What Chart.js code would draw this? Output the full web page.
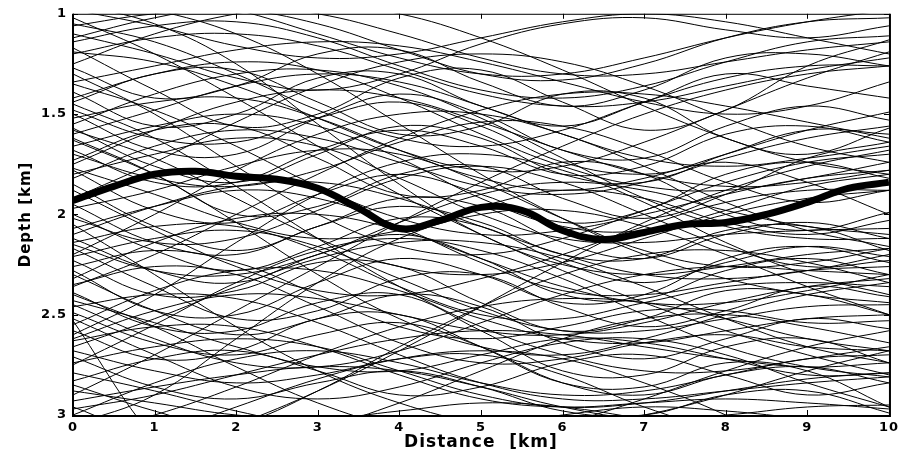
<!DOCTYPE html>
<html>
<head>
<meta charset="utf-8">
<script src="https://cdn.jsdelivr.net/npm/chart.js@4.4.1/dist/chart.umd.min.js"></script>
<style>
  html, body { margin:0; padding:0; background:#fff; }
  #wrap { width:903px; height:460px; position:relative; }
</style>
</head>
<body>
<div id="wrap"><canvas id="depthChart"></canvas></div>
<script>
// distance axis (km) for the model curves
const distanceKm = [0, 1, 2, 3, 4, 5, 6, 7, 8, 9, 10];
// thick best-fit interface, sampled every 0.5 km
const bestDistanceKm = [0, 0.5, 1, 1.5, 2, 2.5, 3, 3.5, 4, 4.5, 5, 5.5, 6, 6.5, 7, 7.5, 8, 8.5, 9, 9.5, 10];
const bestDepth = [1.93, 1.86, 1.80, 1.785, 1.81, 1.825, 1.87, 1.97, 2.07, 2.03, 1.965, 1.98, 2.08, 2.125, 2.09, 2.05, 2.04, 2.00, 1.94, 1.87, 1.84];
// thin model curves, depth (km) at each distanceKm value
const modelDepths = [
  [1.06, 1.00, 0.98, 1.05, 1.18, 1.30, 1.33, 1.25, 1.12, 1.04, 1.02],
  [1.10, 1.20, 1.32, 1.38, 1.30, 1.15, 1.05, 1.02, 1.08, 1.12, 1.06],
  [1.14, 1.06, 1.04, 1.12, 1.26, 1.38, 1.42, 1.36, 1.24, 1.14, 1.11],
  [1.17, 1.38, 1.56, 1.50, 1.32, 1.28, 1.44, 1.58, 1.48, 1.26, 1.13],
  [1.19, 1.24, 1.36, 1.52, 1.68, 1.78, 1.76, 1.64, 1.48, 1.32, 1.19],
  [1.27, 1.42, 1.36, 1.20, 1.18, 1.34, 1.46, 1.38, 1.22, 1.20, 1.26],
  [1.34, 1.26, 1.18, 1.14, 1.16, 1.24, 1.34, 1.44, 1.50, 1.46, 1.34],
  [1.39, 1.56, 1.50, 1.32, 1.30, 1.46, 1.56, 1.44, 1.30, 1.36, 1.42],
  [1.44, 1.30, 1.28, 1.44, 1.60, 1.56, 1.40, 1.42, 1.62, 1.70, 1.57],
  [1.50, 1.68, 1.70, 1.52, 1.40, 1.50, 1.68, 1.72, 1.56, 1.46, 1.53],
  [1.52, 1.44, 1.42, 1.52, 1.68, 1.82, 1.88, 1.82, 1.70, 1.58, 1.49],
  [1.57, 1.76, 1.84, 1.70, 1.56, 1.62, 1.80, 1.84, 1.70, 1.58, 1.60],
  [1.60, 1.48, 1.36, 1.30, 1.34, 1.46, 1.60, 1.72, 1.76, 1.72, 1.66],
  [1.63, 1.80, 2.00, 1.96, 1.80, 1.76, 1.92, 2.02, 1.90, 1.72, 1.64],
  [1.66, 1.56, 1.50, 1.56, 1.72, 1.92, 2.06, 2.08, 1.98, 1.86, 1.80],
  [1.70, 1.82, 1.86, 1.78, 1.64, 1.54, 1.56, 1.68, 1.84, 1.94, 1.88],
  [1.73, 1.58, 1.56, 1.72, 1.90, 1.88, 1.74, 1.80, 2.00, 2.08, 1.99],
  [1.77, 1.90, 2.04, 2.12, 2.08, 1.96, 1.88, 1.92, 2.04, 2.10, 2.03],
  [1.80, 1.70, 1.62, 1.66, 1.82, 2.00, 2.12, 2.14, 2.10, 2.08, 2.07],
  [1.85, 2.06, 2.18, 2.06, 1.92, 1.96, 2.14, 2.22, 2.10, 2.04, 2.12],
  [1.97, 1.88, 1.76, 1.68, 1.70, 1.84, 2.02, 2.18, 2.26, 2.24, 2.17],
  [2.00, 2.18, 2.28, 2.16, 2.02, 2.06, 2.24, 2.34, 2.24, 2.16, 2.21],
  [2.02, 2.14, 2.12, 1.98, 1.82, 1.76, 1.84, 2.00, 2.16, 2.26, 2.23],
  [2.07, 1.96, 1.88, 1.92, 2.06, 2.24, 2.38, 2.40, 2.34, 2.28, 2.26],
  [2.12, 2.28, 2.34, 2.20, 2.10, 2.22, 2.40, 2.42, 2.28, 2.22, 2.30],
  [2.14, 2.06, 2.06, 2.18, 2.36, 2.50, 2.52, 2.44, 2.36, 2.34, 2.36],
  [2.17, 2.36, 2.52, 2.48, 2.32, 2.30, 2.46, 2.56, 2.48, 2.36, 2.41],
  [2.21, 2.12, 2.08, 2.16, 2.32, 2.48, 2.58, 2.58, 2.52, 2.46, 2.45],
  [2.23, 2.40, 2.38, 2.24, 2.26, 2.44, 2.58, 2.52, 2.38, 2.40, 2.50],
  [2.26, 2.18, 2.24, 2.40, 2.56, 2.62, 2.56, 2.48, 2.48, 2.54, 2.53],
  [2.30, 2.48, 2.60, 2.52, 2.40, 2.46, 2.64, 2.72, 2.62, 2.52, 2.57],
  [2.35, 2.26, 2.30, 2.46, 2.64, 2.74, 2.72, 2.64, 2.60, 2.66, 2.68],
  [2.39, 2.56, 2.58, 2.44, 2.40, 2.58, 2.78, 2.80, 2.66, 2.62, 2.74],
  [2.43, 2.54, 2.66, 2.76, 2.78, 2.70, 2.62, 2.64, 2.72, 2.80, 2.79],
  [2.46, 2.40, 2.42, 2.54, 2.70, 2.84, 2.92, 2.92, 2.88, 2.84, 2.81],
  [2.49, 2.64, 2.70, 2.60, 2.54, 2.66, 2.84, 2.90, 2.80, 2.76, 2.84],
  [2.53, 3.12, 3.50, 3.70, 3.80, 3.80, 3.80, 3.80, 3.80, 3.80, 3.80],
  [2.58, 2.72, 2.68, 2.52, 2.50, 2.66, 2.84, 2.86, 2.74, 2.78, 2.96],
  [2.63, 2.56, 2.56, 2.66, 2.80, 2.92, 2.96, 2.94, 2.92, 2.94, 2.97],
  [2.68, 2.78, 2.84, 2.80, 2.72, 2.70, 2.80, 2.96, 3.08, 3.14, 3.12],
  [2.71, 2.86, 2.92, 2.84, 2.78, 2.86, 2.98, 3.00, 2.90, 2.88, 2.99],
  [2.74, 2.66, 2.62, 2.66, 2.78, 2.90, 2.96, 2.94, 2.88, 2.82, 2.79],
  [2.79, 2.88, 2.98, 3.06, 3.10, 3.06, 3.00, 2.96, 2.98, 3.02, 3.06],
  [2.83, 2.72, 2.68, 2.78, 2.90, 2.86, 2.74, 2.70, 2.80, 2.90, 2.84],
  [2.88, 2.94, 3.00, 3.02, 2.98, 2.94, 2.96, 3.02, 3.08, 3.10, 3.06],
  [2.93, 2.86, 2.80, 2.76, 2.78, 2.86, 2.96, 3.02, 3.00, 2.96, 2.95],
  [2.97, 2.90, 2.80, 2.70, 2.62, 2.58, 2.60, 2.66, 2.72, 2.76, 2.74],
  [1.02, 1.20, 1.42, 1.66, 1.90, 2.10, 2.28, 2.44, 2.58, 2.70, 2.80],
  [2.90, 2.70, 2.48, 2.26, 2.04, 1.84, 1.66, 1.50, 1.38, 1.30, 1.26],
  [0.95, 1.05, 1.25, 1.55, 1.85, 2.10, 2.25, 2.30, 2.26, 2.20, 2.17],
  [3.05, 2.90, 2.62, 2.34, 2.12, 2.00, 1.98, 2.06, 2.20, 2.36, 2.50],
  [1.30, 1.50, 1.76, 2.00, 2.16, 2.20, 2.12, 1.98, 1.84, 1.74, 1.70],
  [2.60, 2.40, 2.14, 1.90, 1.74, 1.70, 1.78, 1.94, 2.14, 2.30, 2.40],
  [1.62, 1.80, 2.04, 2.30, 2.52, 2.66, 2.70, 2.62, 2.50, 2.40, 2.34],
  [2.20, 2.00, 1.78, 1.60, 1.50, 1.50, 1.60, 1.76, 1.94, 2.08, 2.16],
  [1.92, 1.74, 1.54, 1.36, 1.24, 1.20, 1.24, 1.36, 1.52, 1.66, 1.74],
  [2.36, 2.20, 2.00, 1.80, 1.62, 1.48, 1.40, 1.40, 1.46, 1.54, 1.62],
  [1.45, 1.62, 1.86, 2.12, 2.36, 2.56, 2.70, 2.78, 2.78, 2.72, 2.66],
  [2.96, 3.10, 3.05, 2.88, 2.66, 2.46, 2.30, 2.20, 2.18, 2.24, 2.34],
  [0.90, 0.98, 1.10, 1.30, 1.55, 1.80, 2.02, 2.20, 2.32, 2.40, 2.44],
  [3.30, 3.20, 3.05, 2.88, 2.68, 2.46, 2.24, 2.04, 1.88, 1.76, 1.68],
  [3.20, 3.10, 2.96, 2.82, 2.72, 2.68, 2.72, 2.84, 3.00, 3.20, 3.30],
  [0.85, 0.90, 0.98, 1.10, 1.22, 1.30, 1.30, 1.22, 1.12, 1.04, 0.98],
  [1.25, 1.10, 1.00, 0.95, 1.00, 1.12, 1.28, 1.46, 1.62, 1.74, 1.80],
  [2.05, 2.30, 2.56, 2.78, 2.94, 3.04, 3.06, 3.00, 2.90, 2.78, 2.68],
  [2.75, 2.55, 2.34, 2.18, 2.12, 2.18, 2.32, 2.50, 2.66, 2.76, 2.81],
  [1.55, 1.40, 1.30, 1.28, 1.36, 1.52, 1.72, 1.92, 2.06, 2.12, 2.12],
  [2.45, 2.62, 2.74, 2.76, 2.68, 2.54, 2.40, 2.30, 2.26, 2.28, 2.30],
  [1.88, 2.08, 2.26, 2.38, 2.40, 2.32, 2.20, 2.06, 1.94, 1.88, 1.88],
  [2.32, 2.14, 2.02, 2.00, 2.08, 2.22, 2.36, 2.44, 2.44, 2.38, 2.30],
  [3.10, 3.00, 2.86, 2.70, 2.56, 2.46, 2.42, 2.44, 2.52, 2.62, 2.68],
  [1.75, 1.58, 1.44, 1.38, 1.42, 1.54, 1.68, 1.80, 1.86, 1.84, 1.78],
  [2.55, 2.38, 2.28, 2.28, 2.38, 2.52, 2.62, 2.64, 2.58, 2.52, 2.50],
  [1.35, 1.48, 1.66, 1.86, 2.02, 2.10, 2.08, 2.00, 1.90, 1.82, 1.78],
  [0.98, 1.06, 1.16, 1.22, 1.20, 1.12, 1.04, 1.00, 1.04, 1.12, 1.20],
  [1.12, 1.02, 0.96, 1.00, 1.10, 1.22, 1.30, 1.30, 1.24, 1.18, 1.14],
  [2.85, 2.98, 3.08, 3.06, 2.94, 2.78, 2.62, 2.52, 2.50, 2.56, 2.64],
  [2.15, 2.28, 2.30, 2.20, 2.04, 1.90, 1.84, 1.88, 1.98, 2.06, 2.10],
  [1.48, 1.62, 1.64, 1.52, 1.44, 1.56, 1.74, 1.80, 1.74, 1.84, 2.00],
  [2.62, 2.48, 2.40, 2.42, 2.50, 2.58, 2.60, 2.54, 2.44, 2.36, 2.32],
  [1.68, 1.84, 1.84, 1.68, 1.58, 1.66, 1.80, 1.76, 1.60, 1.56, 1.64],
  [2.40, 2.56, 2.76, 2.94, 3.06, 3.10, 3.04, 2.92, 2.78, 2.66, 2.58],
  [1.82, 1.66, 1.58, 1.62, 1.74, 1.86, 1.90, 1.84, 1.72, 1.62, 1.56],
  [2.28, 2.48, 2.50, 2.34, 2.22, 2.30, 2.44, 2.40, 2.22, 2.16, 2.24],
  [1.05, 1.14, 1.30, 1.48, 1.62, 1.66, 1.58, 1.44, 1.32, 1.26, 1.26],
  [3.00, 2.84, 2.72, 2.68, 2.74, 2.84, 2.90, 2.88, 2.80, 2.72, 2.70],
  [1.42, 1.30, 1.24, 1.28, 1.42, 1.60, 1.76, 1.86, 1.88, 1.82, 1.74],
  [2.10, 1.96, 1.86, 1.84, 1.92, 2.06, 2.20, 2.30, 2.32, 2.28, 2.20],
  [1.58, 1.72, 1.92, 2.12, 2.26, 2.30, 2.24, 2.12, 2.00, 1.92, 1.88],
  [2.66, 2.52, 2.36, 2.22, 2.14, 2.14, 2.22, 2.36, 2.52, 2.66, 2.74],
  [1.20, 1.12, 1.10, 1.16, 1.28, 1.40, 1.46, 1.44, 1.36, 1.28, 1.22],
  [1.95, 2.14, 2.20, 2.06, 1.96, 2.04, 2.20, 2.22, 2.08, 2.06, 2.18],
  [2.52, 2.70, 2.86, 2.92, 2.86, 2.74, 2.64, 2.62, 2.70, 2.84, 2.96],
  [1.78, 1.98, 2.04, 1.90, 1.80, 1.90, 2.04, 1.98, 1.80, 1.74, 1.82]
];
const depthTicks = [1, 1.5, 2, 2.5, 3];
const distanceTicks = [0, 1, 2, 3, 4, 5, 6, 7, 8, 9, 10];

const tickFont = { family: "'DejaVu Sans', sans-serif", size: 13, weight: 'bold' };

const datasets = [{
    data: bestDistanceKm.map((x, i) => ({ x: x, y: bestDepth[i] })),
    borderColor: '#000',
    borderWidth: 7,
    pointRadius: 0,
    tension: 0.4,
    clip: 0
}];
modelDepths.forEach(curve => {
    datasets.push({
        data: distanceKm.map((x, i) => ({ x: x, y: curve[i] })),
        borderColor: '#000',
        borderWidth: 1,
        pointRadius: 0,
        tension: 0.4,
        clip: 0
    });
});

// frame and inward tick marks, matlab style
const framePlugin = {
    id: 'frame',
    beforeDraw(chart) {
        chart.ctx.letterSpacing = '1px';
    },
    afterDatasetsDraw(chart) {
        const { ctx, chartArea: a, scales } = chart;
        ctx.save();
        ctx.strokeStyle = '#000';
        ctx.lineWidth = 1;
        ctx.beginPath();
        distanceTicks.forEach(v => {
            const px = Math.round(scales.x.getPixelForValue(v)) + 0.5;
            ctx.moveTo(px, a.top); ctx.lineTo(px, a.top + 5);
            ctx.moveTo(px, a.bottom); ctx.lineTo(px, a.bottom - 5);
        });
        depthTicks.forEach(v => {
            const py = Math.round(scales.y.getPixelForValue(v)) + 0.5;
            ctx.moveTo(a.left, py); ctx.lineTo(a.left + 5, py);
            ctx.moveTo(a.right, py); ctx.lineTo(a.right - 5, py);
        });
        ctx.stroke();
        ctx.beginPath();
        ctx.moveTo(a.left, a.top + 0.5); ctx.lineTo(a.right, a.top + 0.5);
        ctx.stroke();
        ctx.lineWidth = 2;
        ctx.beginPath();
        ctx.moveTo(a.left, a.top); ctx.lineTo(a.left, a.bottom + 1);
        ctx.lineTo(a.right + 1, a.bottom + 1); ctx.lineTo(a.right + 1, a.top);
        ctx.stroke();
        ctx.restore();
    }
};

new Chart(document.getElementById('depthChart'), {
    type: 'line',
    data: { datasets: datasets },
    plugins: [framePlugin],
    options: {
        responsive: true,
        maintainAspectRatio: false,
        animation: false,
        layout: { padding: { top: 12, right: 13, left: 0, bottom: 0 } },
        elements: { line: { capBezierPoints: false } },
        plugins: { legend: { display: false }, tooltip: { enabled: false } },
        scales: {
            x: {
                type: 'linear',
                min: 0,
                max: 10,
                afterFit: (s) => { s.height = 45; },
                afterBuildTicks: (s) => { s.ticks = distanceTicks.map(v => ({ value: v })); },
                grid: { display: false, drawTicks: false },
                border: { display: false },
                ticks: { color: '#000', font: tickFont, padding: 5, maxRotation: 0, callback: (v) => String(v) },
                title: {
                    display: true,
                    text: 'Distance  [km]',
                    color: '#000',
                    font: { family: "'DejaVu Sans', sans-serif", size: 17, weight: 'bold' },
                    padding: { top: 0, bottom: 7 }
                }
            },
            y: {
                type: 'linear',
                min: 1,
                max: 3,
                reverse: true,
                afterFit: (s) => { s.width = 73; },
                afterBuildTicks: (s) => { s.ticks = depthTicks.map(v => ({ value: v })); },
                grid: { display: false, drawTicks: false },
                border: { display: false },
                ticks: { color: '#000', font: tickFont, padding: 6, callback: (v) => String(v) },
                title: {
                    display: true,
                    text: 'Depth [km]',
                    color: '#000',
                    font: { family: "'DejaVu Sans', sans-serif", size: 15, weight: 'bold' },
                    padding: { top: 17, bottom: 0 }
                }
            }
        }
    }
});
</script>
</body>
</html>
